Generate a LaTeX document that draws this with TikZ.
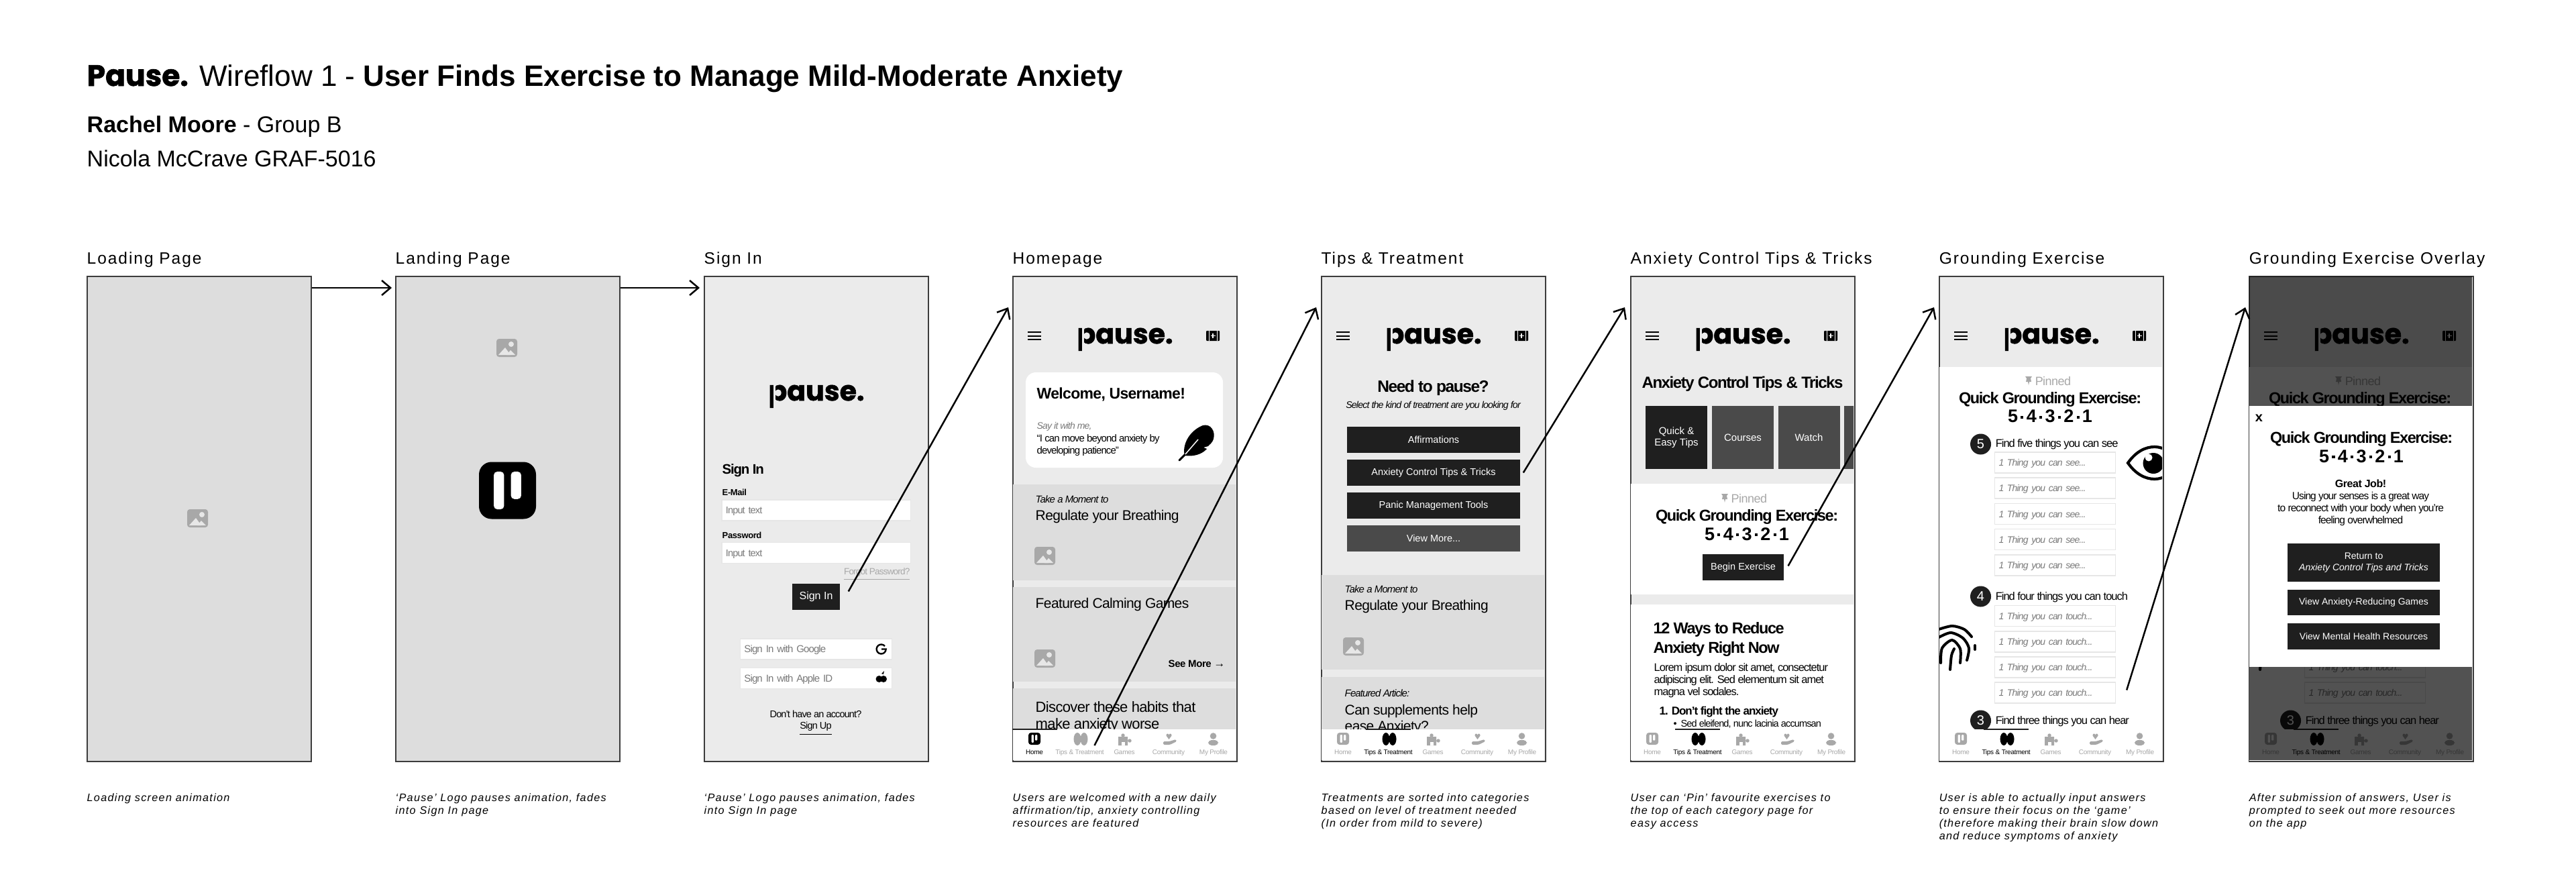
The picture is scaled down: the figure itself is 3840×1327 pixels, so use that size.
\documentclass[tikz,border=0pt]{standalone}
\usepackage{fontspec}
\setmainfont{Liberation Sans}
\newfontfamily\uifont{Liberation Sans}[LetterSpace=-3]
\newfontfamily\tightfont{Liberation Sans}[LetterSpace=-6]
\newfontfamily\capfont{Liberation Sans}[LetterSpace=8]
\newfontfamily\logofont{Poppins}[BoldFeatures={FakeBold=1.5}]
\usetikzlibrary{calc,arrows.meta}

\definecolor{panel}{HTML}{EBEBEB}
\definecolor{band}{HTML}{DDDDDD}
\definecolor{ink}{HTML}{1F1F1F}
\definecolor{slate}{HTML}{4A4A4A}
\definecolor{faint}{HTML}{A8A8A8}
\definecolor{hint}{HTML}{7A7A7A}
\definecolor{edge}{HTML}{E6E6E6}
\definecolor{frameline}{HTML}{3C3C3C}

\newcommand\fsz[1]{\fontsize{\fpeval{#1*0.2845}pt}{\fpeval{#1*0.2845*1.18}pt}\selectfont}
\newcommand\sqdot{\hspace{.16em}\rule[.22em]{.15em}{.15em}\hspace{.16em}}

\tikzset{
  screen/.style={draw=frameline,line width=.015cm,minimum width=3.34cm,minimum height=7.23cm,anchor=north west,inner sep=0pt},
  frametitle/.style={inner sep=0pt,anchor=base west,font=\capfont\fsz{24.5}},
  caption/.style={inner sep=0pt,anchor=north west,align=left,font=\capfont\itshape\fsz{16.2}},
  lbl/.style={inner sep=0pt,anchor=base west,font=\uifont\fsz{#1}},
  lblb/.style={inner sep=0pt,anchor=base west,font=\uifont\bfseries\fsz{#1}},
  lblt/.style={inner sep=0pt,anchor=base west,font=\tightfont\fsz{#1}},
  lblh/.style={inner sep=0pt,anchor=base west,font=\tightfont\bfseries\fsz{#1}},
  lblti/.style={inner sep=0pt,anchor=base west,font=\tightfont\itshape\fsz{#1}},
  mid/.style={anchor=base},
  flow/.style={->,>={Straight Barb[length=.13cm,width=.22cm]},line width=.025cm,black},
  darkbtn/.style={fill=ink,text=white,inner sep=0pt,font=\fsz{#1}},
  darkbtn/.default=14.5,
  fieldbox/.style={draw=edge,line width=.012cm,fill=white,inner ysep=0pt,inner xsep=.06cm,align=left,text depth=0pt},
  answerbox/.style={fieldbox,text width=1.68cm,minimum height=.31cm,text=hint,font=\tightfont\itshape\fsz{14}},
  stepdot/.style={circle,fill=ink,text=white,inner sep=0pt,minimum size=.31cm,font=\fsz{20}},
}

% grey picture placeholder, top left corner at #1,#2
\newcommand\imgicon[2]{
  \begin{scope}[shift={(#1,#2)}]
    \fill[faint,rounded corners=.04cm] (0,0) rectangle (31,27);
    \fill[band!70!white] (22,8) circle[radius=4];
    \fill[band!70!white] (3,24) -- (13,13) -- (21,24) -- cycle;
    \fill[band!70!white] (15,24) -- (21,17) -- (28,24) -- cycle;
  \end{scope}
}

% app mark: rounded square #4 with centre #1,#2, side #3
\newcommand\pmark[4]{
  \begin{scope}[shift={(#1,#2)},scale=#3/100]
    \fill[#4,rounded corners=\fpeval{#3*0.0022}cm] (-50,-50) rectangle (50,50);
    \fill[white,rounded corners=\fpeval{#3*0.0006}cm] (-24,33) -- (-24,-33) -- (-6,-33) -- (-6,33) -- cycle;
    \fill[white,rounded corners=\fpeval{#3*0.0006}cm] (6,15) -- (6,-33) -- (24,-33) -- (24,15) -- cycle;
  \end{scope}
}

% word mark, baseline at #2, with the gap in its first letter
\newcommand\pauselogo[2]{
  \node[inner sep=0pt,anchor=base,font=\logofont\bfseries\fsz{41}] (#1logo) at (168,#2) {pause.};
  \fill[panel] (103.5,#2-28) rectangle (107,#2+12);
}

% logo, menu and kit at the top of a screen
\newcommand\pausehead[1]{
  \pauselogo{#1}{101}
  \foreach \ly in {84,90,95} \draw[black,line width=.028cm] (23,\ly) -- (43,\ly);
  \fill[black,rounded corners=.01cm] (289,82) rectangle (309,97);
  \draw[white,line width=.01cm] (293,82) -- (293,97) (305,82) -- (305,97);
  \draw[white,line width=.012cm] (299,86) -- (299,93) (295.5,89.5) -- (302.5,89.5);
}

% bottom bar, #2 is the active tab
\newcommand\tabbar[2]{
  \fill[white] (1,676) rectangle (333,722);
  \draw[ink,line width=.015cm] (\fpeval{(#2-1)*67},676) -- (\fpeval{#2*67},676);
  \foreach \i/\lab/\cx in {1/Home/33,2/{Tips \& Treatment}/100.5,3/Games/167,4/Community/233,5/My Profile/300}{
    \ifnum\i=#2 \def\tabcol{black}\else\def\tabcol{faint}\fi
    \node[lbl=10,mid,text=\tabcol] (#1tab\i) at (\cx,713) {\lab};
  }
  \ifnum#2=1 \pmark{33}{690}{18}{black}\else\pmark{33}{690}{18}{faint}\fi
  \ifnum#2=2 \def\tabcol{black}\else\def\tabcol{faint}\fi
  \fill[\tabcol] (97,690.5) ellipse[x radius=5.5,y radius=9.5] (107,690.5) ellipse[x radius=5.5,y radius=9.5];
  \fill[faint] (158,687) rectangle (172,700) (165,685) circle[radius=2.7] (175,693) circle[radius=2.7];
  \fill[white] (163,695) rectangle (168,700);
  \fill[faint] (233.5,691) -- (229.5,685.5) .. controls (229,682) and (233,681.5) .. (233.5,684.5) .. controls (234,681.5) and (238,682) .. (237.5,685.5) -- cycle;
  \fill[faint,rounded corners=.015cm] (225,699) -- (225,694) -- (234,694) -- (244,691) -- (245,694) -- (235,699) -- cycle;
  \fill[faint] (299.5,686) circle[radius=4.8];
  \fill[faint,rounded corners=.05cm] (292,700) -- (292,692) -- (307,692) -- (307,700) -- cycle;
}

% pin marker and word
\newcommand\pinned[3]{
  \fill[faint] (#2,#3) -- (#2+10,#3) -- (#2+8,#3+3) -- (#2+9,#3+8) -- (#2+6,#3+8) -- (#2+5,#3+13) -- (#2+4,#3+8) -- (#2+1,#3+8) -- (#2+2,#3+3) -- cycle;
  \node[lbl=18,text=faint] (#1pin) at (#2+14,#3+13) {Pinned};
}

% exercise screen: the part the overlay leaves visible at the top
\newcommand\groundtop[1]{
  \fill[white] (1,136) rectangle (333,723);
  \pausehead{#1}
  \pinned{#1}{129}{150}
  \node[lblh=23.5,mid] (#1quick) at (166,190.5) {Quick Grounding Exercise:};
}

% exercise screen: the part under the overlay panel
\newcommand\groundmiddle[1]{
  \node[lblb=27,mid] (#1count) at (166,218.5) {\normalfont\bfseries 5\sqdot 4\sqdot 3\sqdot 2\sqdot 1};
  \node[stepdot] (#1dotfive) at (62.5,251) {5};
  \node[lblt=16.5] (#1findfive) at (84,255) {Find five things you can see};
  \foreach \i/\cy in {1/278.5,2/316.5,3/355,4/393,5/431.5}
    \node[answerbox] (#1see\i) at (173.5,\cy) {1 Thing you can see...};
  \node[stepdot] (#1dotfour) at (62.5,478) {4};
  \node[lblt=16.5] (#1findfour) at (84,483.5) {Find four things you can touch};
  \foreach \i/\cy in {1/507,2/545.5}
    \node[answerbox] (#1touch\i) at (173.5,\cy) {1 Thing you can touch...};
  \begin{scope}
    \clip (1,0) rectangle (333,723);
    \draw[black,line width=.042cm] (282,279) .. controls (294,262) and (308,255) .. (322,255) .. controls (336,255) and (350,265) .. (360,279) .. controls (350,293) and (336,303) .. (322,303) .. controls (308,303) and (294,296) .. (282,279) -- cycle;
    \fill[black] (320,279.5) circle[radius=15.5];
    \fill[white] (313,271) circle[radius=5.5];
  \end{scope}
}

% exercise screen: the bottom rows and the print
\newcommand\groundlow[1]{
  \foreach \i/\cy in {3/583.5,4/621.5}
    \node[answerbox] (#1touch\i) at (173.5,\cy) {1 Thing you can touch...};
  \node[stepdot] (#1dotthree) at (62.5,663) {3};
  \node[lblt=16.5] (#1findthree) at (84,668) {Find three things you can hear};
  \begin{scope}
    \clip (1,0) rectangle (333,723);
    \draw[black,line width=.04cm,line cap=round] plot[smooth] coordinates {(0,527) (20,522) (38,527) (49,538)};
    \draw[black,line width=.04cm,line cap=round] (54,551) -- (54,557);
    \draw[black,line width=.04cm,line cap=round] plot[smooth] coordinates {(0,539) (18,532) (36,540) (45,555) (42,573)};
    \draw[black,line width=.04cm,line cap=round] plot[smooth] coordinates {(3,577) (5,555) (20,543) (32,556) (32,577)};
    \draw[black,line width=.04cm,line cap=round] plot[smooth] coordinates {(17,587) (19,566) (23,556)};
  \end{scope}
}

\begin{document}
\begin{tikzpicture}[x=.01cm,y=-.01cm]
\useasboundingbox (0,0) rectangle (3840,1327);

\node[inner sep=0pt,anchor=base west,font=\fsz{44}] (wireflow) at (129,128) {{\logofont\bfseries Pause.} Wireflow 1 - \textbf{User Finds Exercise to Manage Mild-Moderate Anxiety}};
\node[inner sep=0pt,anchor=base west,font=\fsz{34}] (student) at (129,197) {\textbf{Rachel Moore} - Group B};
\node[inner sep=0pt,anchor=base west,font=\fsz{34}] (tutor) at (129,248) {Nicola McCrave GRAF-5016};

\foreach \fname/\fx/\fcol/\ftitle/\fcap in {
  load/129/band/Loading Page/{Loading screen animation},
  land/589/band/Landing Page/{‘Pause’ Logo pauses animation, fades\\into Sign In page},
  sign/1049/panel/Sign In/{‘Pause’ Logo pauses animation, fades\\into Sign In page},
  home/1509/panel/Homepage/{Users are welcomed with a new daily\\affirmation/tip, anxiety controlling\\resources are featured},
  tips/1969/panel/Tips \& Treatment/{Treatments are sorted into categories\\based on level of treatment needed\\(In order from mild to severe)},
  acts/2430/panel/Anxiety Control Tips \& Tricks/{User can ‘Pin’ favourite exercises to\\the top of each category page for\\easy access},
  grnd/2890/panel/Grounding Exercise/{User is able to actually input answers\\to ensure their focus on the ‘game’\\(therefore making their brain slow down\\and reduce symptoms of anxiety},
  over/3352/panel/Grounding Exercise Overlay/{After submission of answers, User is\\prompted to seek out more resources\\on the app}}{
  \node[screen,fill=\fcol] (\fname frame) at (\fx,411) {};
  \node[frametitle] (\fname title) at (\fx,393) {\ftitle};
  \node[caption] (\fname cap) at (\fx,1182) {\fcap};
}

% loading and landing
\imgicon{279}{759}
\imgicon{740}{505}
\pmark{756.5}{731}{85}{black}

% sign in
\begin{scope}[shift={(1049,411)}]
  \pauselogo{sign}{186}
  \node[lblh=20.5] (signhead) at (27,295) {Sign In};
  \node[lblb=13] (maillbl) at (27,327) {E-Mail};
  \node[fieldbox,text width=2.69cm,minimum height=.31cm,text=hint,font=\tightfont\fsz{14.5}] (mailbox) at (167.5,349.5) {Input text};
  \node[lblb=13] (passlbl) at (27,391) {Password};
  \node[fieldbox,text width=2.69cm,minimum height=.31cm,text=hint,font=\tightfont\fsz{14.5}] (passbox) at (167.5,413) {Input text};
  \node[lblt=13.5,anchor=base east,text=faint] (forgot) at (308,445) {\underline{Forgot Password?}};
  \node[darkbtn=16,minimum width=.71cm,minimum height=.39cm] (signbtn) at (167.5,478.5) {Sign In};
  \node[fieldbox,text width=2.14cm,minimum height=.31cm,text=hint,font=\tightfont\fsz{15}] (googlebox) at (167.5,556.5) {Sign In with Google};
  \draw[black,line width=.024cm] (270,552) arc[start angle=-40,end angle=-360,radius=7] -- (265,556.5);
  \node[fieldbox,text width=2.14cm,minimum height=.31cm,text=hint,font=\tightfont\fsz{15}] (applebox) at (167.5,600) {Sign In with Apple ID};
  \fill[black] (261.5,601) circle[radius=5] (268,601) circle[radius=5];
  \fill[black] (265,593) -- (269,589) -- (268,594) -- cycle;
  \node[lblt=14.5,mid] (noacct) at (167,658) {Don’t have an account?};
  \node[lblt=14.5,mid] (signup) at (167,675.5) {\underline{Sign Up}};
\end{scope}

% homepage
\begin{scope}[shift={(1509,411)}]
  \pausehead{home}
  \fill[white,rounded corners=.15cm] (20,144) rectangle (314,286);
  \node[lblb=23] (welcome) at (36,183.5) {Welcome, Username!};
  \node[lblti=14,text=hint] (sayit) at (36,228) {Say it with me,};
  \node[lblt=15] (quoteone) at (36,247) {“I can move beyond anxiety by};
  \node[lblt=15] (quotetwo) at (36,265) {developing patience”};
  \fill[black] (257,268) .. controls (253,254) and (262,232) .. (284,223) .. controls (296,220) and (303,232) .. (300,243) .. controls (298,250) and (293,252) .. (292,254) -- (285,256) -- (290,258) .. controls (283,266) and (270,270) .. (257,268) -- cycle;
  \draw[black,line width=.03cm,line cap=round] (249,275) -- (258,266);
  \draw[white,line width=.015cm] (258,266) -- (277,244);
  \fill[band] (1,311) rectangle (333,454);
  \node[lblti=15] (hometake) at (34,338) {Take a Moment to};
  \node[lbl=21] (homereg) at (34,364) {Regulate your Breathing};
  \imgicon{33}{404}
  \fill[band] (1,464) rectangle (333,605);
  \node[lbl=21] (homegames) at (34,495) {Featured Calming Games};
  \imgicon{33}{557}
  \node[lblb=15] (seemore) at (232,583) {See More \fsz{17}→};
  \fill[band] (1,615) rectangle (333,676);
  \node[lbl=22] (habitone) at (34,650) {Discover these habits that};
  \node[lbl=22] (habittwo) at (34,675) {make anxiety worse};
  \tabbar{home}{1}
\end{scope}

% tips and treatment
\begin{scope}[shift={(1969,411)}]
  \pausehead{tips}
  \node[lblh=24.5,mid] (needpause) at (167.5,173.5) {Need to pause?};
  \node[lblti=14.2,mid] (selectkind) at (167.5,197.5) {Select the kind of treatment are you looking for};
  \foreach \bname/\cy/\btxt in {aff/244.5/Affirmations,ctrl/293.5/{Anxiety Control Tips \& Tricks},panic/342.5/Panic Management Tools}
    \node[darkbtn,minimum width=2.58cm,minimum height=.39cm] (\bname btn) at (168,\cy) {\btxt};
  \node[darkbtn,fill=slate,minimum width=2.58cm,minimum height=.39cm] (morebtn) at (168,391.5) {View More...};
  \fill[band] (1,446) rectangle (333,587);
  \node[lblti=15] (tipstake) at (35,472) {Take a Moment to};
  \node[lbl=21] (tipsreg) at (35,498.5) {Regulate your Breathing};
  \imgicon{33}{539}
  \fill[band] (1,597.5) rectangle (333,676);
  \node[lblti=15] (article) at (35,627) {Featured Article:};
  \node[lbl=21] (suppone) at (35,654) {Can supplements help};
  \node[lbl=21] (supptwo) at (35,678) {ease Anxiety?};
  \tabbar{tips}{2}
\end{scope}

% anxiety control tips and tricks
\begin{scope}[shift={(2430,411)}]
  \pausehead{acts}
  \node[lblh=24,mid] (actshead) at (167.5,167.5) {Anxiety Control Tips \& Tricks};
  \begin{scope}
    \clip (1,0) rectangle (333,723);
    \foreach \bname/\cx/\bcol/\btxt in {easy/69/ink/{Quick \&\\Easy Tips},course/168/slate/Courses,watch/266.5/slate/Watch,more/365/slate/A}
      \node[fill=\bcol,text=white,inner sep=0pt,align=center,minimum width=.92cm,minimum height=.935cm,font=\fsz{15}] (\bname card) at (\cx,241) {\btxt};
  \end{scope}
  \fill[white] (1,310) rectangle (333,475);
  \pinned{acts}{136}{325}
  \node[lblh=23.5,mid] (actsquick) at (174,365.5) {Quick Grounding Exercise:};
  \node[lblb=27,mid] (actscount) at (174,394) {\normalfont\bfseries 5\sqdot 4\sqdot 3\sqdot 2\sqdot 1};
  \node[darkbtn,minimum width=1.205cm,minimum height=.39cm] (beginbtn) at (168.5,434.5) {Begin Exercise};
  \fill[white] (1,490) rectangle (333,676);
  \node[lblh=23.5] (waysone) at (34,533) {12 Ways to Reduce};
  \node[lblh=23.5] (waystwo) at (34,562) {Anxiety Right Now};
  \node[lblt=16.4] (loremone) at (35,589) {Lorem ipsum dolor sit amet, consectetur};
  \node[lblt=16.4] (loremtwo) at (35,607) {adipiscing elit. Sed elementum sit amet};
  \node[lblt=16.4] (loremthree) at (35,625) {magna vel sodales.};
  \node[lblh=17] (dontfight) at (43,654) {1. Don’t fight the anxiety};
  \node[lblt=14.5] (bullet) at (64,672.5) {\textbullet\hspace{.4em}Sed eleifend, nunc lacinia accumsan};
  \tabbar{acts}{2}
\end{scope}

% grounding exercise
\begin{scope}[shift={(2890,411)}]
  \groundtop{grnd}
  \groundmiddle{grnd}
  \groundlow{grnd}
  \tabbar{grnd}{2}
\end{scope}

% overlay
\begin{scope}[shift={(3352,411)}]
  \groundtop{over}
  \groundlow{over}
  \tabbar{over}{2}
  \fill[black,opacity=.68] (1,1) rectangle (333,722);
  \fill[white] (1,194) rectangle (333,583);
  \node[lblb=20,mid] (closex) at (15.5,217) {x};
  \node[lblh=23.5,mid] (modalquick) at (168,249) {Quick Grounding Exercise:};
  \node[lblb=27,mid] (modalcount) at (168,278) {\normalfont\bfseries 5\sqdot 4\sqdot 3\sqdot 2\sqdot 1};
  \node[lblb=16,mid] (greatjob) at (167,315) {Great Job!};
  \node[lblt=15.5,mid] (senseone) at (167,333) {Using your senses is a great way};
  \node[lblt=15.5,mid] (sensetwo) at (167,351) {to reconnect with your body when you’re};
  \node[lblt=15.5,mid] (sensethree) at (167,369) {feeling overwhelmed};
  \node[darkbtn=14,align=center,minimum width=2.27cm,minimum height=.565cm] (returnbtn) at (171.5,427.5) {Return to\\\textit{Anxiety Control Tips and Tricks}};
  \node[darkbtn=14,minimum width=2.27cm,minimum height=.385cm] (gamesbtn) at (171.5,487) {View Anxiety-Reducing Games};
  \node[darkbtn=14,minimum width=2.27cm,minimum height=.385cm] (healthbtn) at (171.5,537.5) {View Mental Health Resources};
\end{scope}

\draw[flow] ($(loadframe.north east)+(0,18)$) -- ($(landframe.north west)+(-5,18)$);
\draw[flow] ($(landframe.north east)+(0,18)$) -- ($(signframe.north west)+(-6,18)$);
\draw[flow] ($(signbtn.east)+(12,-8)$) -- ($(homeframe.north west)+(-6,47)$);
\draw[flow] ($(hometab2.north)+(22,-5)$) -- ($(tipsframe.north west)+(-7,47)$);
\draw[flow] ($(ctrlbtn.east)+(4,0)$) -- ($(actsframe.north west)+(-8,47)$);
\draw[flow] ($(beginbtn.east)+(6,-2)$) -- ($(grndframe.north west)+(-7,47)$);
\draw[flow] ($(grndsee5.east)+(16,186)$) -- ($(overframe.north west)+(-5,47)$);
\end{tikzpicture}
\end{document}
